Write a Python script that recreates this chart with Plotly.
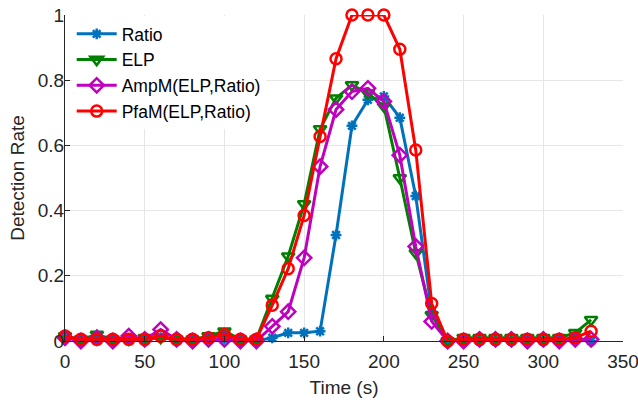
import plotly.graph_objects as go

time = list(range(0, 340, 10))

ratio = [0.01, 0.005, 0.005, 0.005, 0.005, 0.005, 0.01, 0.005, 0.005, 0.005, 0.005, 0.0, 0.0,
         0.01, 0.025, 0.025, 0.03, 0.325, 0.66, 0.74, 0.75, 0.685, 0.445, 0.09,
         0.0, 0.0, 0.0, 0.0, 0.0, 0.0, 0.0, 0.0, 0.005, 0.0]
elp = [0.015, 0.005, 0.02, 0.005, 0.005, 0.01, 0.01, 0.005, 0.005, 0.015, 0.03, 0.005, 0.005,
       0.13, 0.26, 0.42, 0.65, 0.745, 0.785, 0.76, 0.72, 0.5, 0.27, 0.08,
       0.0, 0.01, 0.01, 0.01, 0.01, 0.01, 0.01, 0.01, 0.025, 0.065]
ampm = [0.01, 0.0, 0.01, 0.0, 0.015, 0.005, 0.035, 0.005, 0.0, 0.005, 0.005, 0.0, 0.0,
        0.045, 0.09, 0.255, 0.535, 0.71, 0.765, 0.775, 0.735, 0.57, 0.29, 0.06,
        0.0, 0.0, 0.005, 0.005, 0.005, 0.0, 0.005, 0.0, 0.005, 0.005]
pfam = [0.015, 0.005, 0.005, 0.005, 0.005, 0.005, 0.015, 0.005, 0.005, 0.01, 0.02, 0.005, 0.005,
        0.11, 0.222, 0.385, 0.627, 0.866, 1.0, 1.0, 1.0, 0.895, 0.586, 0.115,
        0.0, 0.005, 0.005, 0.005, 0.005, 0.005, 0.005, 0.005, 0.01, 0.03]

x_ticks = [0, 50, 100, 150, 200, 250, 300, 350]
y_ticks = [0, 0.2, 0.4, 0.6, 0.8, 1]
y_tick_labels = ["0", "0.2", "0.4", "0.6", "0.8", "1"]

series = [
    ("Ratio", ratio, "#0072BD", "asterisk-open", 9),
    ("ELP", elp, "#008000", "triangle-down-open", 11),
    ("AmpM(ELP,Ratio)", ampm, "#BF00BF", "diamond-open", 11),
    ("PfaM(ELP,Ratio)", pfam, "#FF0000", "circle-open", 11),
]

fig = go.Figure()
for name, vals, color, sym, size in series:
    fig.add_trace(go.Scatter(
        x=time, y=vals, name=name, mode="lines+markers",
        line=dict(color=color, width=3),
        marker=dict(symbol=sym, size=size, color=color, line=dict(color=color, width=2.5)),
        cliponaxis=False,
    ))

axis_common = dict(
    showgrid=True, gridcolor="#e6e6e6", gridwidth=1,
    showline=True, linecolor="#262626", linewidth=1,
    ticks="inside", ticklen=5, tickcolor="#262626",
    tickfont=dict(size=19, color="#262626"),
    zeroline=False, mirror=False, automargin=False,
    ticklabeloverflow="allow",
)

fig.update_layout(
    width=638, height=400,
    margin=dict(l=65, r=15, t=15, b=59),
    paper_bgcolor="white", plot_bgcolor="white",
    font=dict(family="Liberation Sans, Arial, sans-serif", color="#262626"),
    showlegend=True,
    legend=dict(x=0.012, y=0.997, xanchor="left", yanchor="top",
                bgcolor="white", borderwidth=0,
                font=dict(size=17.5, color="#000000"),
                tracegroupgap=0, itemwidth=40),
)
fig.update_xaxes(range=[0, 350], tickvals=x_ticks, ticklabelstandoff=3,
                 title=dict(text="Time (s)", font=dict(size=19), standoff=9), **axis_common)
fig.update_yaxes(range=[0, 1], tickvals=y_ticks, ticktext=y_tick_labels, ticklabelstandoff=-4,
                 title=dict(text="Detection Rate", font=dict(size=19), standoff=8), **axis_common)

fig.write_html("out.html")
